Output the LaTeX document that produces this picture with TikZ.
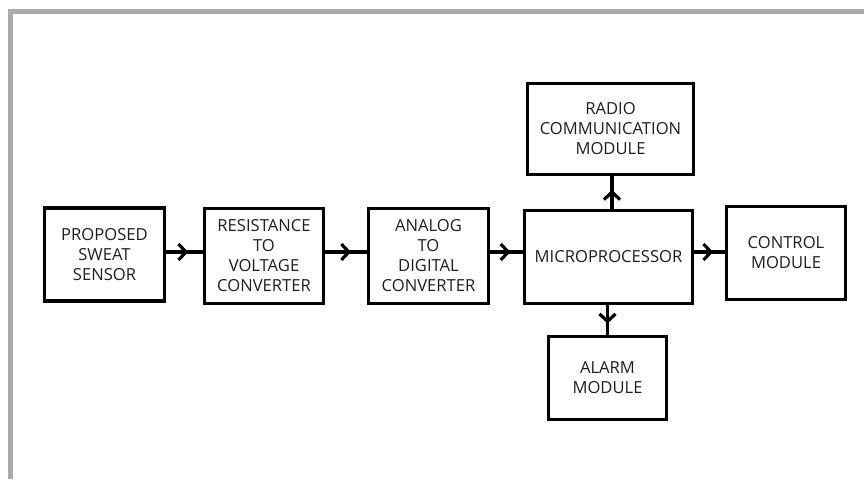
\documentclass[tikz,border=0pt]{standalone}
\usepackage{fontspec}
\setmainfont{Open Sans}
\usetikzlibrary{arrows.meta,decorations.markings}
\definecolor{frame}{HTML}{AAAAAE}
\begin{document}
\begin{tikzpicture}[x=1pt,y=-1pt,
  blk/.style={draw=black,line width=3.2pt,rectangle,align=center,inner sep=0pt,
    font=\fontsize{16.6}{20}\selectfont,text=black!88},
  conn/.style={line width=3.2pt,postaction={decorate},
    decoration={markings,mark=at position #1 with {\arrow{Straight Barb[length=7.5pt,width=16pt,line width=3.2pt]}}}},
  conn/.default=0.6]
\useasboundingbox (0,0) rectangle (864,479);
\fill[frame] (8,9) rectangle (864,14);
\fill[frame] (8,9) rectangle (13,479);
\coordinate (ay) at (0,252);
\node[blk,minimum width=120pt,minimum height=93pt] (s) at (104.5,254.5) {PROPOSED\\SWEAT\\SENSOR};
\node[blk,minimum width=119pt,minimum height=95pt] (rv) at (264,256) {RESISTANCE\\TO\\VOLTAGE\\CONVERTER};
\node[blk,minimum width=120pt,minimum height=95pt] (ad) at (428.5,256) {ANALOG\\TO\\DIGITAL\\CONVERTER};
\node[blk,minimum width=168pt,minimum height=93pt] (m) at (608.5,257) {MICROPROCESSOR};
\node[blk,minimum width=166pt,minimum height=91pt] (rc) at (610.5,129) {RADIO\\COMMUNICATION\\MODULE};
\node[blk,minimum width=118pt,minimum height=83pt] (al) at (607.5,378) {ALARM\\MODULE};
\node[blk,minimum width=119pt,minimum height=93pt] (c) at (786,253) {CONTROL\\MODULE};
\draw[conn=0.6] (s.east |- ay) -- (rv.west |- ay);
\draw[conn=0.62] (rv.east |- ay) -- (ad.west |- ay);
\draw[conn=0.62] (ad.east |- ay) -- (m.west |- ay);
\draw[conn=0.62] (m.east |- ay) -- (c.west |- ay);
\draw[conn=0.58] (m.north -| 612,0) -- (rc.south -| 612,0);
\draw[conn=0.62] (al.north |- m.south) -- (al.north);
\end{tikzpicture}
\end{document}
